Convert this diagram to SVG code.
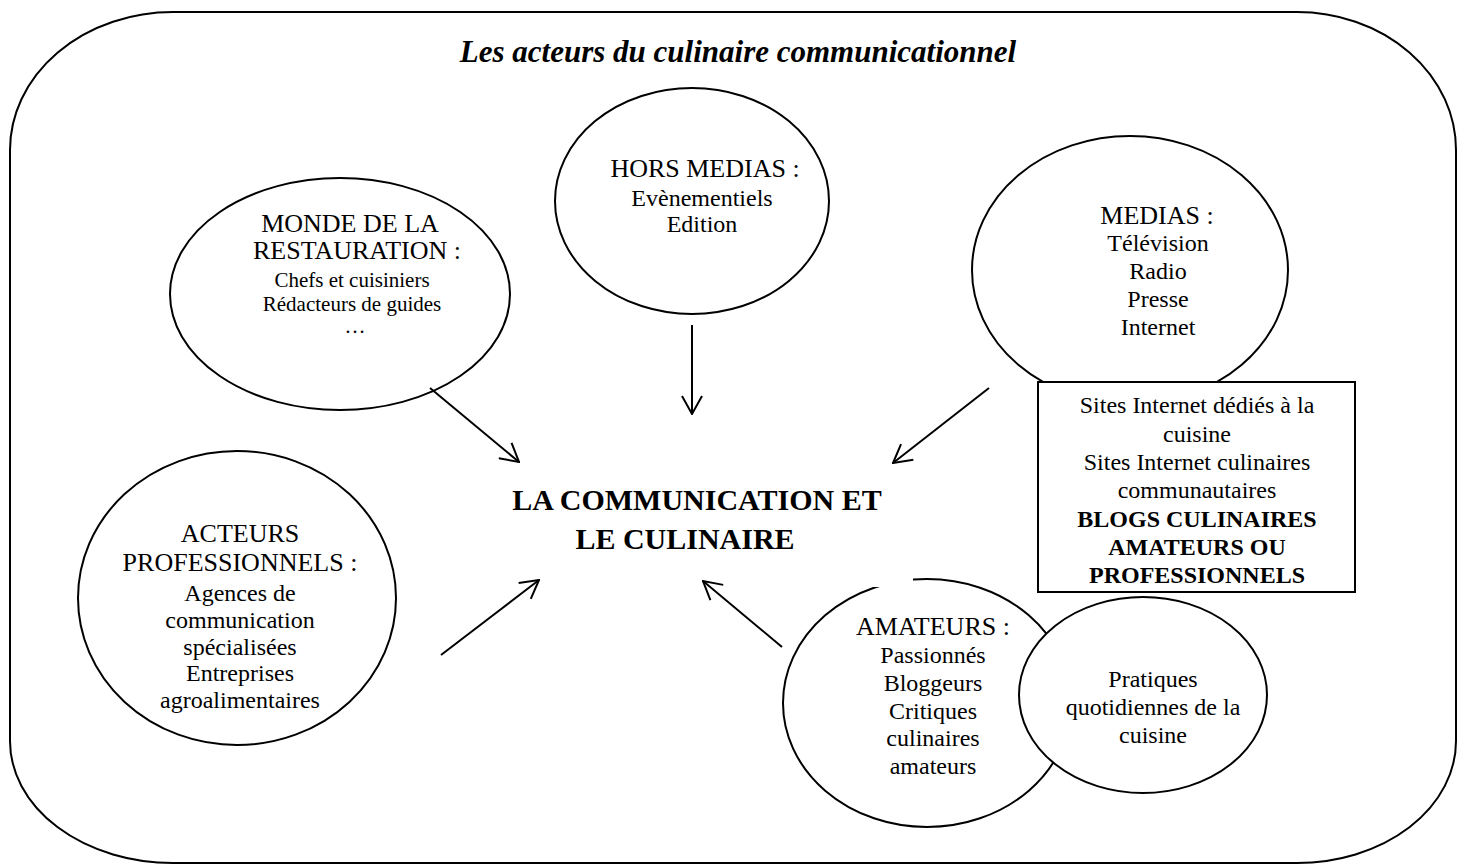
<svg xmlns="http://www.w3.org/2000/svg" width="1464" height="868" viewBox="0 0 1464 868">
<style>
.sh{fill:#fff;stroke:#000;stroke-width:2}
.t{font-family:"Liberation Serif","Times New Roman",serif;fill:#000;text-anchor:middle}
.h{font-size:26px}
.s{font-size:24px}
.s21{font-size:21px}
.b{font-weight:bold}
.c{stroke:#000;stroke-width:2;fill:none}
</style>
<defs>
<marker id="ah" viewBox="0 0 20 22" refX="19" refY="11" markerWidth="20" markerHeight="22" markerUnits="userSpaceOnUse" orient="auto">
<path d="M1,1 L19,11 L1,21" fill="none" stroke="#000" stroke-width="2"/>
</marker>
</defs>
<rect width="1464" height="868" fill="#fff"/>
<g id="frame">
<path class="sh" d="M173,12 H1297 A159,138 0 0 1 1456,150 V741 A159,122 0 0 1 1297,863 H173 A163,122 0 0 1 10,741 V150 A163,138 0 0 1 173,12 Z"/>
<text class="t b" x="738" y="62" font-size="31" font-style="italic">Les acteurs du culinaire communicationnel</text>
</g>
<g id="monde">
<ellipse class="sh" cx="340" cy="294" rx="170" ry="116"/>
<text class="t h" x="350" y="232">MONDE DE LA</text>
<text class="t h" x="357" y="259">RESTAURATION :</text>
<text class="t s21" x="352" y="287">Chefs et cuisiniers</text>
<text class="t s21" x="352" y="311">Rédacteurs de guides</text>
<text class="t s21" x="355" y="333">…</text>
</g>
<g id="hors-medias">
<ellipse class="sh" cx="692" cy="201" rx="137" ry="113"/>
<text class="t h" x="705" y="177">HORS MEDIAS :</text>
<text class="t s" x="702" y="206">Evènementiels</text>
<text class="t s" x="702" y="232">Edition</text>
</g>
<g id="medias">
<ellipse class="sh" cx="1130" cy="270" rx="158" ry="134"/>
<text class="t h" x="1157" y="224">MEDIAS :</text>
<text class="t s" x="1158" y="251">Télévision</text>
<text class="t s" x="1158" y="279">Radio</text>
<text class="t s" x="1158" y="307">Presse</text>
<text class="t s" x="1158" y="335">Internet</text>
</g>
<g id="sites">
<rect class="sh" x="1038" y="382" width="317" height="210"/>
<text class="t s" x="1197" y="413">Sites Internet dédiés à la</text>
<text class="t s" x="1197" y="442">cuisine</text>
<text class="t s" x="1197" y="470">Sites Internet culinaires</text>
<text class="t s" x="1197" y="498">communautaires</text>
<text class="t s b" x="1197" y="527">BLOGS CULINAIRES</text>
<text class="t s b" x="1197" y="555">AMATEURS OU</text>
<text class="t s b" x="1197" y="583">PROFESSIONNELS</text>
</g>
<g id="acteurs">
<ellipse class="sh" cx="237" cy="598" rx="159" ry="147"/>
<text class="t h" x="240" y="542">ACTEURS</text>
<text class="t h" x="240" y="571">PROFESSIONNELS :</text>
<text class="t s" x="240" y="601">Agences de</text>
<text class="t s" x="240" y="628">communication</text>
<text class="t s" x="240" y="655">spécialisées</text>
<text class="t s" x="240" y="681">Entreprises</text>
<text class="t s" x="240" y="708">agroalimentaires</text>
</g>
<g id="amateurs">
<ellipse class="sh" cx="927" cy="703" rx="144" ry="124"/>
<rect x="858" y="560" width="55" height="27" fill="#fff"/>
<text class="t h" x="933" y="635">AMATEURS :</text>
<text class="t s" x="933" y="663">Passionnés</text>
<text class="t s" x="933" y="691">Bloggeurs</text>
<text class="t s" x="933" y="719">Critiques</text>
<text class="t s" x="933" y="746">culinaires</text>
<text class="t s" x="933" y="774">amateurs</text>
</g>
<g id="pratiques">
<ellipse class="sh" cx="1143" cy="695" rx="124" ry="98"/>
<text class="t s" x="1153" y="687">Pratiques</text>
<text class="t s" x="1153" y="715">quotidiennes de la</text>
<text class="t s" x="1153" y="743">cuisine</text>
</g>
<g id="centre">
<text class="t b" x="697" y="510" font-size="30">LA COMMUNICATION ET</text>
<text class="t b" x="685" y="549" font-size="30">LE CULINAIRE</text>
</g>
<g id="connectors">
<line class="c" x1="430" y1="388" x2="519" y2="462" marker-end="url(#ah)"/>
<line class="c" x1="692" y1="325" x2="692" y2="414" marker-end="url(#ah)"/>
<line class="c" x1="989" y1="388" x2="893" y2="463" marker-end="url(#ah)"/>
<line class="c" x1="441" y1="655" x2="539" y2="580" marker-end="url(#ah)"/>
<line class="c" x1="782" y1="647" x2="703" y2="581" marker-end="url(#ah)"/>
</g>
</svg>
